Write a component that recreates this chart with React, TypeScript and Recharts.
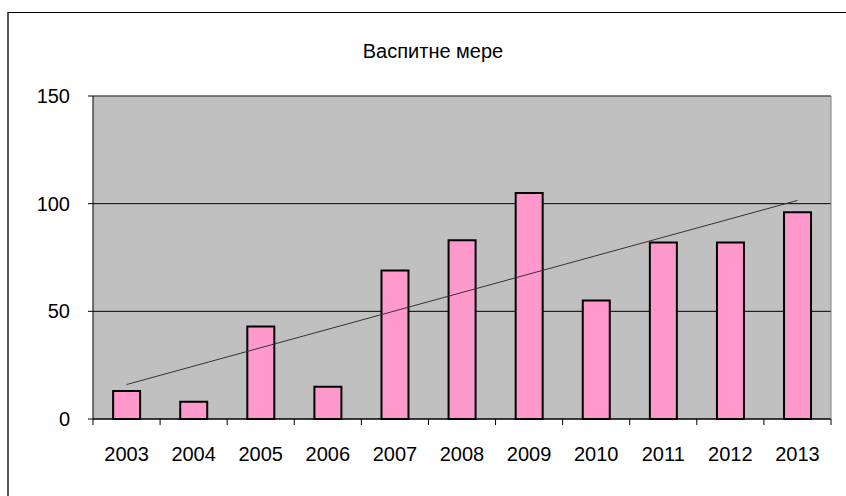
import { BarChart, Bar, Line, XAxis, YAxis, CartesianGrid, ReferenceLine } from 'recharts';

const years = ['2003', '2004', '2005', '2006', '2007', '2008', '2009', '2010', '2011', '2012', '2013'];
const measures = [13, 8, 43, 15, 69, 83, 105, 55, 82, 82, 96];
// trendline: first and last point only
const trendEnds: (number | null)[] = [16, null, null, null, null, null, null, null, null, null, 101.5];
const yTicks = [0, 50, 100, 150];

const data = years.map((year, i) => ({ year, value: measures[i], trend: trendEnds[i] }));

const font = '"Liberation Sans", Arial, sans-serif';

const YearTick = (props: any) => {
    const { x, y, payload, index, visibleTicksCount } = props;
    const half = payload.offset ?? 0;
    const isLast = index === visibleTicksCount - 1;
    return (
        <g>
            <line x1={x - half} x2={x - half} y1={y} y2={y + 6} stroke="#000" />
            {isLast && <line x1={x + half} x2={x + half} y1={y} y2={y + 6} stroke="#000" />}
            <text x={x} y={y + 42} textAnchor="middle" fontSize={20} fontFamily={font} fill="#000">
                {payload.value}
            </text>
        </g>
    );
};

export default function App() {
    return (
        <div style={{ position: 'absolute', left: 0, top: 0, width: 846, height: 496, background: '#fff' }}>
            <div
                style={{
                    position: 'absolute',
                    left: 7,
                    top: 12,
                    width: 839,
                    height: 484,
                    boxSizing: 'border-box',
                    borderTop: '1px solid #000',
                    borderLeft: '2px solid #555',
                }}
            />
            <div
                style={{
                    position: 'absolute',
                    left: 283,
                    top: 41,
                    width: 300,
                    textAlign: 'center',
                    fontFamily: font,
                    fontSize: 20,
                    lineHeight: '20px',
                    color: '#000',
                }}
            >
                Васпитне мере
            </div>
            <BarChart
                width={846}
                height={496}
                data={data}
                margin={{ top: 96, right: 0, bottom: 47, left: 0 }}
                barCategoryGap="30%"
                style={{ position: 'absolute', left: 0, top: 0 }}
            >
                <CartesianGrid vertical={false} stroke="#000" fill="#C0C0C0" fillOpacity={1} />
                <XAxis
                    dataKey="year"
                    height={30}
                    tickLine={false}
                    tickSize={0}
                    tickMargin={0}
                    axisLine={{ stroke: '#000' }}
                    tick={<YearTick />}
                    interval={0}
                />
                <YAxis
                    width={93}
                    domain={[0, 150]}
                    ticks={yTicks}
                    tickSize={5}
                    tickMargin={18}
                    axisLine={{ stroke: '#000' }}
                    tickLine={{ stroke: '#000' }}
                    tick={{ fontSize: 20, fontFamily: font, fill: '#000' }}
                />
                <YAxis
                    yAxisId="right"
                    orientation="right"
                    width={15}
                    domain={[0, 150]}
                    tick={false}
                    tickLine={false}
                    axisLine={{ stroke: '#808080' }}
                />
                <ReferenceLine y={150} stroke="#808080" />
                <Bar dataKey="value" fill="#FF99CC" stroke="#000" strokeWidth={2} isAnimationActive={false} />
                <Line
                    dataKey="trend"
                    stroke="#333"
                    strokeWidth={1}
                    dot={false}
                    connectNulls
                    isAnimationActive={false}
                />
            </BarChart>
        </div>
    );
}
